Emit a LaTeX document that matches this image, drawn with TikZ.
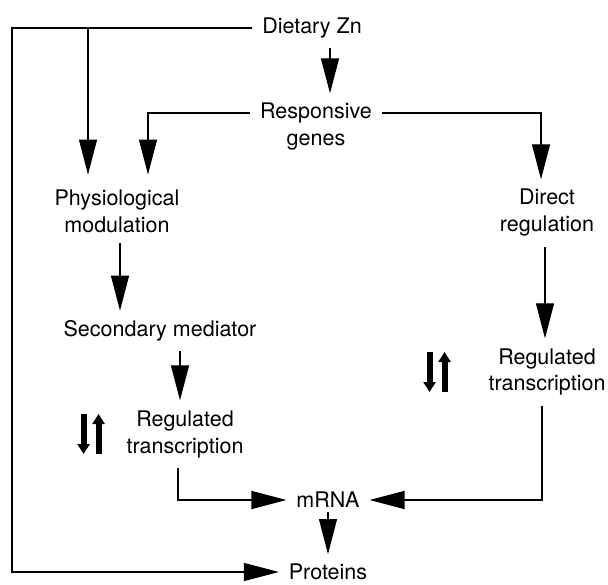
\documentclass[tikz,border=0pt]{standalone}
\usepackage{fontspec}
\setmainfont{TeX Gyre Heros}
\usetikzlibrary{arrows.meta}
\tikzset{
  stage/.style={
    % The text:
    align=center,
    font=\fontsize{21.5}{27}\selectfont,
    % The spacing round it:
    inner sep=0pt, outer sep=10pt
  }}
\tikzset{
	flow/.style={
		% The line and its long, narrow filled tip
		line width=1.2pt,
		-{Triangle[length=35pt,width=18pt]}}}
\tikzset{
	updown/.style={
		% Thick short arrows next to the transcription labels
		line width=6pt,
		-{Triangle[length=10pt,width=12pt]}}}

\begin{document}
\begin{tikzpicture}[x=1pt,y=-1pt]
	\useasboundingbox (0,0) rectangle (608,584);
	\node[stage] (zn) at (312,28) {Dietary Zn};
	\node[stage] (genes) at (316,127) {Responsive\\genes};
	\node[stage] (phys) at (117,211) {Physiological\\modulation};
	\node[stage] (direct) at (547,213) {Direct\\regulation};
	\node[stage] (second) at (160,331) {Secondary mediator};
	\node[stage] (regl) at (185,434) {Regulated\\transcription};
	\node[stage] (regr) at (547,372) {Regulated\\transcription};
	\node[stage] (mrna) at (328,500) {mRNA};
	\node[stage] (prot) at (328,572) {Proteins};
	\coordinate (edge) at (12,300);
	\coordinate (branch) at (88,0);
	% Lines out of zn
	\draw[flow] (zn.west) -| (edge) |- (prot.west);
	\draw[flow,shorten >=5pt] (branch |- zn.west) -- ([xshift=-29pt]phys.north);
	\draw[flow] ([xshift=18pt]zn.south) -- ([xshift=14pt]genes.north);
	% Lines out of genes
	\draw[flow,shorten >=5pt] ([yshift=14pt]genes.west) -| ([xshift=31pt]phys.north);
	\draw[flow] ([yshift=14pt]genes.east) -| ([xshift=-6pt]direct.north);
	% Left branch
	\draw[flow] ([xshift=3pt]phys.south) -- ([xshift=-40pt]second.north);
	\draw[flow] ([xshift=20pt]second.south) -- ([xshift=-5pt]regl.north);
	\draw[flow] ([xshift=-7pt]regl.south) |- (mrna.west);
	% Right branch
	\draw[flow] ([xshift=-2pt]direct.south) -- ([xshift=-2pt]regr.north);
	\draw[flow] ([xshift=-5pt]regr.south) |- (mrna.east);
	% Lines out of mrna
	\draw[flow,shorten <=-6pt] (mrna.south) -- (prot.north);
	% Up and down marks
	\draw[updown] ([xshift=-33pt,yshift=20pt]regl.west) -- ++(0,40);
	\draw[updown] ([xshift=-18pt,yshift=-20pt]regl.west) -- ++(0,-40);
	\draw[updown] ([xshift=-49pt,yshift=20pt]regr.west) -- ++(0,40);
	\draw[updown] ([xshift=-34pt,yshift=-20pt]regr.west) -- ++(0,-40);
\end{tikzpicture}
\end{document}
